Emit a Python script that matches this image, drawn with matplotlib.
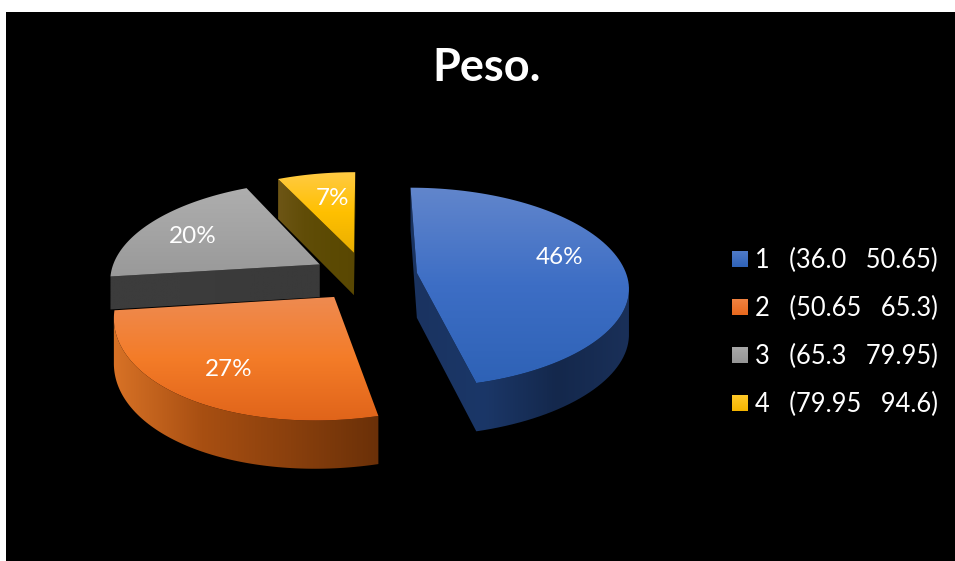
import numpy as np
import matplotlib
matplotlib.use("Agg")
import matplotlib.pyplot as plt
from matplotlib.colors import LinearSegmentedColormap
from matplotlib.patches import Rectangle
from matplotlib.path import Path

# Chart content
title = "Peso."
shares = [46, 27, 20, 7]
share_labels = ["46%", "27%", "20%", "7%"]
classes = ["1", "2", "3", "4"]
lower_bounds = ["36.0", "50.65", "65.3", "79.95"]
upper_bounds = ["50.65", "65.3", "79.95", "94.6"]

# Per-slice colours: top-face gradient (back to front) and wall gradient (left to right)
top_colors = [
    ["#6286CC", "#3D6EC5", "#2E62B6"],
    ["#EE8B52", "#F47C28", "#E0641A"],
    ["#AEAEAE", "#A4A4A4", "#999999"],
    ["#FFCB45", "#FFC000", "#E9AE00"],
]
wall_colors = [
    ["#1A3360", "#1B3768", "#14284C", "#1A3059"],
    ["#D87226", "#A84F12", "#8A400D", "#6A3008"],
    ["#3C3C3C", "#3C3C3C", "#3A3A3A", "#3A3A3A"],
    ["#6E5616", "#614D08", "#5C4A03", "#594702"],
]
legend_top = ["#4F7AC8", "#F08240", "#A8A8A8", "#FFC928"]
legend_bottom = ["#2F63B8", "#E8691E", "#969696", "#F4B400"]

# Projection of the tilted pie onto pixel coordinates
CX, CY = 365.0, 276.0
RX, RY = 210.0, 98.0
PERSPECTIVE = 0.14
EXPLODE = 0.25
LABEL_RADIUS = 0.74
FRONT_SKEW_X, FRONT_SKEW_Y = 10.0, 1.5
wall_depths = [45, 44, 33, 43]
label_nudges = [(-8, -7), (2, 2), (-1, 4), (7, 6)]


def project(x, y):
    w = 1 + PERSPECTIVE * y
    front = np.clip(-np.asarray(y, dtype=float), 0, None) ** 2
    return (CX + RX * x / w - FRONT_SKEW_X * front,
            CY - RY * y / w + FRONT_SKEW_Y * front, w)


def slice_outline(start, end, offset):
    theta = np.radians(np.linspace(start, end, 90))
    x = np.concatenate([[0.0], np.sin(theta)]) + offset[0]
    y = np.concatenate([[0.0], np.cos(theta)]) + offset[1]
    return project(x, y)


fig = plt.figure(figsize=(9.55, 5.61), dpi=100, facecolor="white")
ax = fig.add_axes([0, 0, 1, 1])
ax.set_axis_off()

ax.add_patch(Rectangle((6, 12), 950, 550, facecolor="black", edgecolor="none", zorder=1))


def gradient_fill(colors, clip_path, extent, z, horizontal=False):
    cmap = LinearSegmentedColormap.from_list("fill", colors)
    ramp = np.linspace(0, 1, 256)
    ramp = ramp[None, :] if horizontal else ramp[:, None]
    image = ax.imshow(ramp, cmap=cmap, extent=extent, origin="upper", aspect="auto",
                      interpolation="bilinear", zorder=z)
    image.set_clip_path(clip_path, transform=ax.transData)


font = "Lato"
edges = np.cumsum([0] + shares) * 3.6
slices = []
for i, share in enumerate(shares):
    mid = np.radians((edges[i] + edges[i + 1]) / 2)
    offset = (EXPLODE * np.sin(mid), EXPLODE * np.cos(mid))
    slices.append((i, edges[i], edges[i + 1], mid, offset))

ax.set_xlim(0, 955)
ax.set_ylim(561, 0)

# Painter's order: rear slices first, walls under their top face
z = 2
for i, start, end, mid, offset in [slices[3], slices[2], slices[1], slices[0]]:
    X, Y, W = slice_outline(start, end, offset)
    closed_x = np.concatenate([X, X[:1]])
    closed_y = np.concatenate([Y, Y[:1]])
    closed_w = np.concatenate([W, W[:1]])
    drop = wall_depths[i] / np.sqrt(closed_w)
    quads = []
    for k in range(len(closed_x) - 1):
        # Going clockwise, an edge heading left lies on the viewer's side
        if closed_x[k + 1] < closed_x[k]:
            quads.append(Path([(closed_x[k], closed_y[k]),
                               (closed_x[k + 1], closed_y[k + 1]),
                               (closed_x[k + 1], closed_y[k + 1] + drop[k + 1]),
                               (closed_x[k], closed_y[k] + drop[k]),
                               (closed_x[k], closed_y[k])], closed=True))
    z += 1
    gradient_fill(wall_colors[i], Path.make_compound_path(*quads),
                  (X.min() - 1, X.max() + 1, Y.max() + wall_depths[i] * 1.3, Y.min() - 1), z, horizontal=True)
    z += 1
    gradient_fill(top_colors[i], Path(np.column_stack([closed_x, closed_y]), closed=True),
                  (X.min() - 2, X.max() + 2, Y.max() + 1, Y.min() - 1), z)

# Percentage labels sit on the top faces
for i, start, end, mid, offset in slices:
    lx, ly, _ = project(offset[0] + LABEL_RADIUS * np.sin(mid), offset[1] + LABEL_RADIUS * np.cos(mid))
    ax.text(lx + label_nudges[i][0], ly + label_nudges[i][1], share_labels[i], color="white",
            fontsize=17.5, family=font, ha="center", va="center", zorder=200)

ax.text(487, 68, title, color="white", fontsize=32.5, fontweight="bold", family=font,
        ha="center", va="center", zorder=200)

# Legend
for i, row_y in enumerate([259, 307, 355, 403]):
    cmap = LinearSegmentedColormap.from_list("key", [legend_top[i], legend_bottom[i]])
    ax.imshow(np.linspace(0, 1, 32)[:, None], cmap=cmap, aspect="auto", origin="upper",
              extent=(732, 748, row_y + 8, row_y - 8), zorder=200)
    ax.text(755, row_y + 1.5, f"{classes[i]}   ({lower_bounds[i]}   {upper_bounds[i]})", color="white",
            fontsize=18.4, family=font, ha="left", va="center", zorder=200)

ax.set_xlim(0, 955)
ax.set_ylim(561, 0)
fig.savefig("out.png", dpi=100, facecolor="white")
